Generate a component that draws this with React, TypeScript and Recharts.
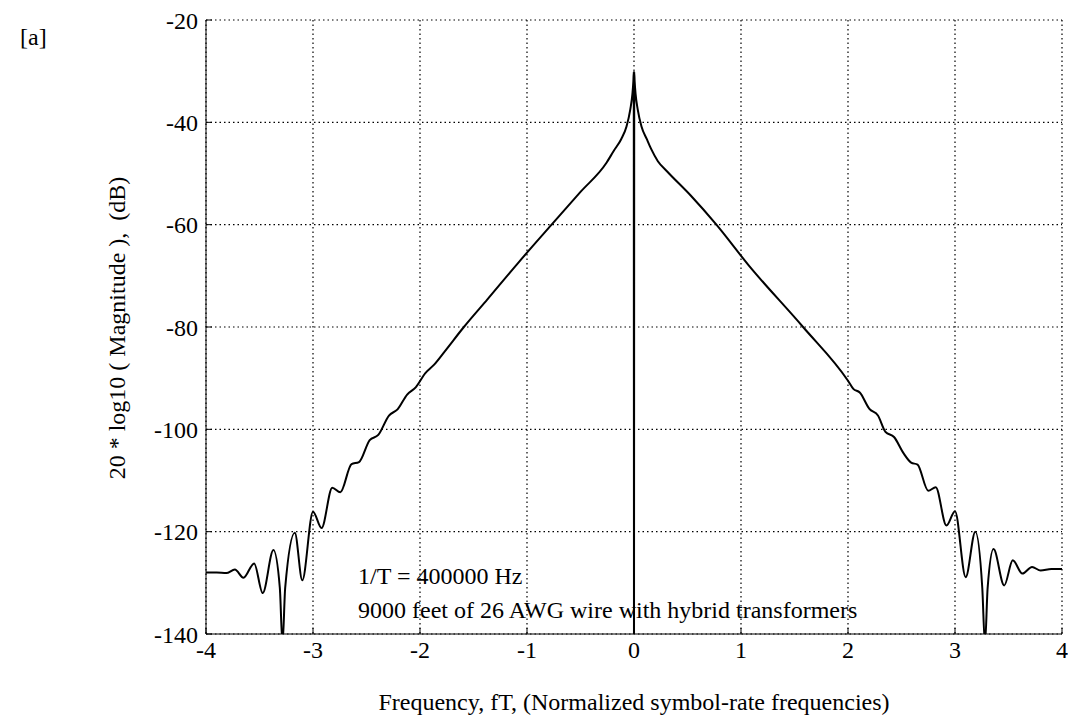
import React from 'react';
import {
  LineChart, Line, XAxis, YAxis, CartesianGrid,
} from 'recharts';

// normalized frequency fT
const freq = [
  -4.0, -3.9, -3.81, -3.73, -3.65, -3.55, -3.47, -3.37, -3.31, -3.285, -3.26, -3.17,
  -3.1, -3.0, -2.92, -2.82, -2.745, -2.64, -2.57, -2.47, -2.39, -2.29,
  -2.21, -2.12, -2.04, -1.95, -1.87, -1.77, -1.59, -1.37, -1.08, -0.77,
  -0.5, -0.257, -0.19, -0.12, -0.07, -0.035, -0.015, -0.006, -0.002, 0,
  0.002, 0.006, 0.015, 0.035, 0.07, 0.12, 0.16, 0.223, 0.31, 0.53,
  0.77, 1.07, 1.58, 2.0, 2.05, 2.11, 2.2, 2.28, 2.35, 2.43,
  2.52, 2.59, 2.65, 2.75, 2.82, 2.92, 3.0, 3.1, 3.19, 3.255, 3.28, 3.305,
  3.36, 3.46, 3.54, 3.63, 3.72, 3.8, 3.9, 4.0,
];

// 20*log10(|H|) in dB
const magDb = [
  -128, -128, -128.1, -127.4, -129, -126.2, -132, -123.6, -131, -142, -131, -120.2,
  -129.5, -116.1, -119.3, -111.4, -112.3, -106.8, -106.4, -102.1, -101.1, -97.3,
  -96.1, -93.2, -91.8, -89.0, -87.4, -84.8, -80, -74.6, -67.4, -60,
  -53.6, -47.9, -45.6, -43.3, -40.8, -37.5, -34.5, -32, -30.2, -150,
  -30.2, -32, -34.5, -37.5, -40.8, -43.3, -45.2, -47.6, -49.6, -54.3,
  -60, -67.9, -80, -90.5, -92.1, -92.8, -96, -97.3, -100.5, -101.5,
  -104.7, -106.5, -106.9, -112, -111.3, -118.8, -116, -128.9, -120, -131, -142, -131,
  -123.4, -130.5, -125.6, -128.2, -126.9, -127.6, -127.3, -127.3,
];

const xTicks = [-4, -3, -2, -1, 0, 1, 2, 3, 4];
const yTicks = [-140, -120, -100, -80, -60, -40, -20];

const data = freq.map((f, i) => ({ f, db: magDb[i] }));

const serif = '"Liberation Serif", "Times New Roman", serif';
const tickStyle = { fontFamily: serif, fontSize: 24, fill: '#000' };

export default function App() {
  return (
    <div style={{ position: 'absolute', left: 0, top: 0, width: 1068, height: 719, background: '#fff', fontFamily: serif }}>
      <LineChart width={1068} height={719} data={data} margin={{ top: 20, right: 6, left: 0, bottom: 0 }}>
        <CartesianGrid stroke="#000" strokeDasharray="1.5 3" strokeWidth={1.2} />
        <XAxis
          type="number" dataKey="f" domain={[-4, 4]} ticks={xTicks} allowDataOverflow
          height={85} stroke="#000" tick={tickStyle} tickSize={-6} tickMargin={13}
          interval={0}
        />
        <XAxis
          xAxisId="top" orientation="top" type="number" dataKey="f" domain={[-4, 4]} ticks={xTicks}
          height={0} stroke="#000" tick={false} tickSize={-6}
        />
        <YAxis
          type="number" domain={[-140, -20]} ticks={yTicks} allowDataOverflow
          width={206} stroke="#000" tick={tickStyle} tickSize={-6} tickMargin={14}
          interval={0}
        />
        <YAxis
          yAxisId="right" orientation="right" type="number" domain={[-140, -20]} ticks={yTicks}
          width={0} stroke="#000" tick={false} tickSize={-6}
        />
        <Line
          type="monotone" dataKey="db" stroke="#000" strokeWidth={2}
          dot={false} isAnimationActive={false}
        />
      </LineChart>

      <div style={{ position: 'absolute', left: 20, top: 24, fontSize: 24 }}>[a]</div>
      <div style={{
        position: 'absolute', left: 117, top: 328, fontSize: 24, whiteSpace: 'nowrap',
        transform: 'translate(-50%, -50%) rotate(-90deg)',
      }}>
        20 * log10 ( Magnitude ),&nbsp; (dB)
      </div>
      <div style={{
        position: 'absolute', left: 634, top: 702, fontSize: 24, whiteSpace: 'nowrap',
        transform: 'translate(-50%, -50%)',
      }}>
        Frequency, fT, (Normalized symbol-rate frequencies)
      </div>
      <div style={{ position: 'absolute', left: 358, top: 563, fontSize: 24, whiteSpace: 'nowrap' }}>
        1/T = 400000 Hz
      </div>
      <div style={{ position: 'absolute', left: 358, top: 597, fontSize: 24, whiteSpace: 'nowrap' }}>
        9000 feet of 26 AWG wire with hybrid transformers
      </div>
    </div>
  );
}
